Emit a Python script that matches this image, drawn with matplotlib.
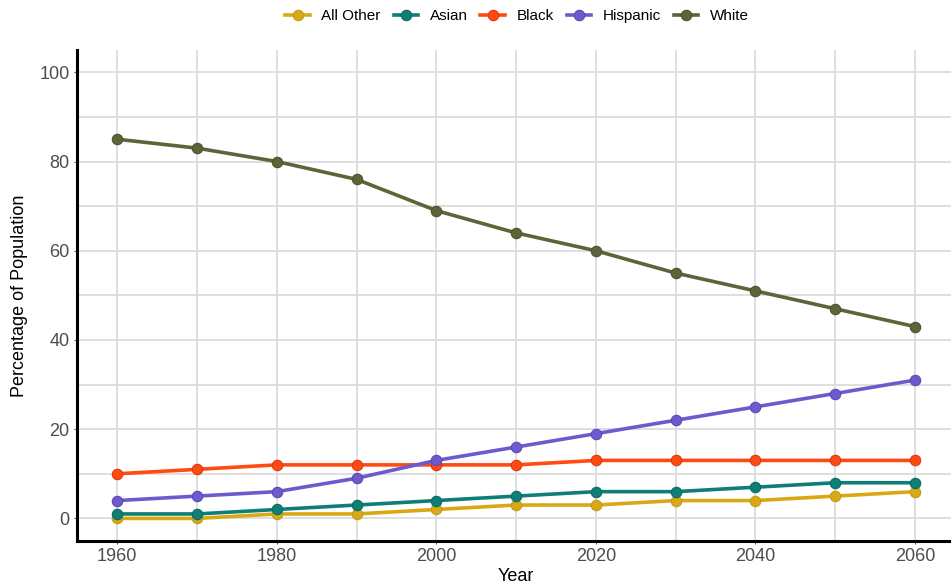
import matplotlib.pyplot as plt
from matplotlib.ticker import MultipleLocator

plt.rcParams['font.family'] = ['Liberation Sans', 'DejaVu Sans']

# Données
years = [1960, 1970, 1980, 1990, 2000, 2010, 2020, 2030, 2040, 2050, 2060]
all_other = [0, 0, 1, 1, 2, 3, 3, 4, 4, 5, 6]
asian = [1, 1, 2, 3, 4, 5, 6, 6, 7, 8, 8]
black = [10, 11, 12, 12, 12, 12, 13, 13, 13, 13, 13]
hispanic = [4, 5, 6, 9, 13, 16, 19, 22, 25, 28, 31]
white = [85, 83, 80, 76, 69, 64, 60, 55, 51, 47, 43]

groups = ['All Other', 'Asian', 'Black', 'Hispanic', 'White']
colors = ['#D9A915', '#0E7F76', '#FF4A12', '#6D5ACF', '#5A6638']
edges = ['#C09A20', '#0B6B63', '#D83A10', '#5A4BB0', '#4A5530']

fig = plt.figure(figsize=(9.51, 5.88), dpi=100)
ax = fig.add_axes([0.0813, 0.0804, 1.004 - 0.0813, 0.915 - 0.0804])

series = [all_other, asian, black, hispanic, white]
for vals, name, c, ec in zip(series, groups, colors, edges):
    ax.plot(years, vals, color=c, linewidth=2.6, marker='o', markersize=7.5,
            markerfacecolor=c, markeredgecolor=ec, markeredgewidth=0.8,
            label=name)

ax.set_xlim(1955, 2065)
ax.set_ylim(-5, 105)
ax.xaxis.set_major_locator(MultipleLocator(20))
ax.xaxis.set_minor_locator(MultipleLocator(10))
ax.yaxis.set_major_locator(MultipleLocator(20))
ax.yaxis.set_minor_locator(MultipleLocator(10))

# Grade cinza clara
ax.grid(True, which='both', color='#dcdcdc', linewidth=1.3)
ax.set_axisbelow(True)

for s in ['top', 'right']:
    ax.spines[s].set_visible(False)
for s in ['left', 'bottom']:
    ax.spines[s].set_linewidth(2.2)
    ax.spines[s].set_color('black')

ax.tick_params(which='major', length=2.5, width=0.8, color='#555555',
               labelsize=13, labelcolor='#4d4d4d', pad=3)
ax.tick_params(which='minor', length=0)

ax.set_xlabel('Year', fontsize=13, color='black', labelpad=2)
ax.set_ylabel('Percentage of Population', fontsize=13, color='black', labelpad=8)

# Legenda no topo, centrada no painel
fig.legend(*ax.get_legend_handles_labels(), loc='center',
           bbox_to_anchor=(517 / 951, 1 - 16 / 588),
           ncol=5, frameon=False, fontsize=11, handlelength=1.6,
           handletextpad=0.75, columnspacing=0.85)

fig.savefig('out.png', dpi=100)
